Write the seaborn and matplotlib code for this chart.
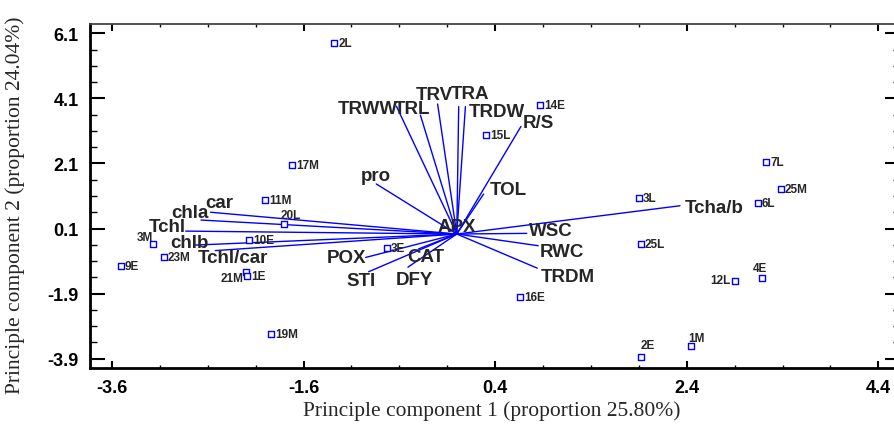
import matplotlib
matplotlib.use("Agg")
import matplotlib.pyplot as plt
import seaborn as sns
import pandas as pd
from matplotlib.ticker import MultipleLocator, FixedLocator

# --- sample scores (PC1, PC2) ---
samples = ['2L', '17M', '11M', '20L', '3M', '10E', '23M', '9E', '21M', '1E', '19M', '3E',
           '15L', '14E', '16E', '3L', '7L', '25M', '6L', '25L', '4E', '12L', '2E', '1M']
pc1 = [-1.28, -1.72, -2.00, -1.80, -3.17, -2.17, -3.06, -3.51, -2.20, -2.19, -1.94, -0.73,
       0.31, 0.87, 0.66, 1.90, 3.23, 3.38, 3.14, 1.92, 3.19, 2.90, 1.92, 2.45]
pc2 = [5.80, 2.06, 0.97, 0.24, -0.37, -0.25, -0.78, -1.05, -1.25, -1.36, -3.15, -0.49,
       2.98, 3.89, -2.02, 1.04, 2.14, 1.31, 0.89, -0.37, -1.41, -1.53, -3.85, -3.51]

# --- trait loadings (vector tips) ---
traits = ['TRWW', 'TRL', 'TRV', 'TRA', 'TRDW', 'R/S', 'pro', 'TOL', 'Tcha/b', 'WSC', 'RWC',
          'TRDM', 'POX', 'STI', 'CAT', 'DFY', 'APX', 'car', 'chla', 'Tchl', 'chlb', 'Tchl/car']
load1 = [-0.63, -0.38, -0.20, 0.02, 0.09, 0.67, -0.84, 0.28, 2.33, 0.73, 0.85,
         0.84, -0.95, -0.92, -0.40, -0.51, -0.07, -2.57, -2.67, -2.83, -2.73, -2.52]
load2 = [3.86, 3.59, 3.93, 3.85, 3.85, 3.24, 1.47, 1.16, 0.80, -0.05, -0.43,
         -1.12, -0.79, -1.23, -0.53, -1.09, 0.08, 0.60, 0.36, 0.02, -0.41, -0.58]
origin = (0.0, -0.07)

x_major = [-3.6, -1.6, 0.4, 2.4, 4.4]
y_major = [6.1, 4.1, 2.1, 0.1, -1.9, -3.9]

# label placement (pixels offset, alignment)
point_lab = {'20L': (6, 9, 'center'), '3M': (-8, 7, 'center'), '21M': (-3, -6, 'right'),
             '4E': (-2, 10, 'center'), '12L': (-4, 1, 'right'), '2E': (7, 12, 'center'),
             '1M': (5, 8, 'center')}
vec_lab = {'TRWW': (1, -2, 'right'), 'TRL': (-8, 7, 'center'), 'TRV': (-3, 10, 'center'),
           'TRA': (11, 13, 'center'), 'TRDW': (3, -5, 'left'), 'R/S': (2, 4, 'left'),
           'pro': (0, 8, 'center'), 'TOL': (6, 5, 'left'), 'Tcha/b': (5, -2, 'left'),
           'WSC': (2, 3, 'left'), 'RWC': (2, -6, 'left'), 'TRDM': (3, -8, 'left'),
           'POX': (0, 0, 'right'), 'STI': (-8, -9, 'center'), 'CAT': (7, -8, 'center'),
           'DFY': (7, -12, 'center'), 'APX': (7, 3, 'center'), 'car': (9, 10, 'center'),
           'chla': (-11, 8, 'center'), 'Tchl': (0, 5, 'right'), 'chlb': (-6, 3, 'center'),
           'Tchl/car': (18, -7, 'center')}

sns.set_style("ticks")
plt.rcParams['font.family'] = ['Liberation Sans', 'DejaVu Sans']

fig = plt.figure(figsize=(8.94, 4.27), dpi=100)
ax = fig.add_axes([90 / 894, 58 / 427, 810 / 894, 344 / 427])

df = pd.DataFrame({'PC1': pc1, 'PC2': pc2, 'sample': samples})

# vectors
for name, vx, vy in zip(traits, load1, load2):
    ax.plot([origin[0], vx], [origin[1], vy], color='#0000ff', lw=1.0, zorder=2)
    dx, dy, ha = vec_lab[name]
    ax.annotate(name, (vx, vy), xytext=(dx, dy), textcoords='offset pixels',
                ha=ha, va='center', fontsize=13.5, fontweight='bold', zorder=4)

sns.scatterplot(data=df, x='PC1', y='PC2', marker='s', s=16, color='white',
                edgecolor='#0000ff', linewidth=1.0, ax=ax, zorder=3)
for name, px, py in zip(samples, pc1, pc2):
    dx, dy, ha = point_lab.get(name, (4, 0, 'left'))
    ax.annotate(name, (px, py), xytext=(dx, dy), textcoords='offset pixels',
                ha=ha, va='center', fontsize=8.5, fontweight='bold', zorder=4)

ax.set_xlim(-3.8286, 4.6265)
ax.set_ylim(-4.192, 6.392)
ax.xaxis.set_major_locator(FixedLocator(x_major))
ax.yaxis.set_major_locator(FixedLocator(y_major))
ax.xaxis.set_minor_locator(MultipleLocator(0.5, offset=0.4))
ax.yaxis.set_minor_locator(MultipleLocator(0.5, offset=0.1))
ax.set_xticklabels([f'{v:.1f}' for v in x_major])
ax.set_yticklabels([f'{v:.1f}' for v in y_major])

ax.tick_params(which='both', direction='in', top=True, right=True, colors='black')
ax.tick_params(axis='x', which='major', length=5, width=1.5, labelsize=13, pad=8)
ax.tick_params(axis='x', which='minor', length=2.2, width=1.0)
ax.tick_params(axis='y', which='major', length=10.5, width=1.5, labelsize=13, pad=8)
ax.tick_params(axis='y', which='minor', length=5, width=1.0)
for lab in ax.get_xticklabels() + ax.get_yticklabels():
    lab.set_fontweight('bold')

for side in ['left', 'bottom']:
    ax.spines[side].set_linewidth(2)
    ax.spines[side].set_color('black')
ax.spines['top'].set_linewidth(1.3)
ax.spines['top'].set_color('#444444')
ax.spines['right'].set_linewidth(1.3)

ax.set_xlabel('Principle component 1 (proportion 25.80%)', family='Liberation Serif',
              fontsize=15.5)
ax.set_ylabel('Principle component 2 (proportion 24.04%)', family='Liberation Serif',
              fontsize=15.5)
ax.xaxis.label.set_va('center')
ax.yaxis.label.set_va('center')
ax.xaxis.set_label_coords((492 - 90) / 810, -(411 - 369) / 344)
ax.yaxis.set_label_coords(-(90 - 15) / 810, (369 - 205) / 344)

fig.savefig('out.png', dpi=100)
